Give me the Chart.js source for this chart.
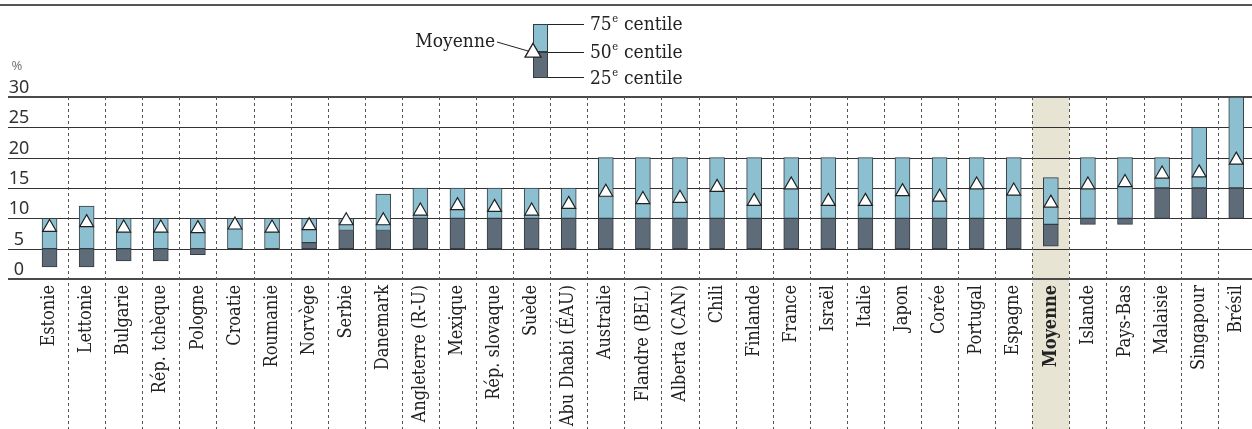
<!DOCTYPE html>
<html lang="fr">
<head>
<meta charset="utf-8">
<title>Centiles</title>
<script src="https://cdn.jsdelivr.net/npm/chart.js@4.4.1/dist/chart.umd.min.js"></script>
<style>
  html, body { margin: 0; padding: 0; background: #fff; overflow: hidden; }
  /* un peu plus large que la fenêtre : la dernière colonne déborde comme dans l'original */
  #wrap { width: 1264px; height: 429px; position: relative; }
</style>
</head>
<body>
<div id="wrap"><canvas id="chart-centiles"></canvas></div>
<script>
/* ── Données ── */
const categories = ['Estonie', 'Lettonie', 'Bulgarie', 'Rép. tchèque', 'Pologne', 'Croatie', 'Roumanie',
  'Norvège', 'Serbie', 'Danemark', 'Angleterre (R-U)', 'Mexique', 'Rép. slovaque', 'Suède',
  'Abu Dhabi (ÉAU)', 'Australie', 'Flandre (BEL)', 'Alberta (CAN)', 'Chili', 'Finlande', 'France',
  'Israël', 'Italie', 'Japon', 'Corée', 'Portugal', 'Espagne', 'Moyenne', 'Islande', 'Pays-Bas',
  'Malaisie', 'Singapour', 'Brésil'];

const p25  = [2, 2, 3, 3, 4, 5, 5, 5, 5, 5, 5, 5, 5, 5, 5, 5, 5, 5, 5, 5, 5, 5, 5, 5, 5, 5, 5, 5.4, 9, 9, 10, 10, 10];
const p50  = [5, 5, 5, 5, 5, 5, 5, 6, 8, 8, 10, 10, 10, 10, 10, 10, 10, 10, 10, 10, 10, 10, 10, 10, 10, 10, 10, 9, 10, 10, 15, 15, 15];
const p75  = [10, 12, 10, 10, 10, 10, 10, 10, 10, 14, 15, 15, 15, 15, 15, 20, 20, 20, 20, 20, 20, 20, 20, 20, 20, 20, 20, 16.7, 20, 20, 20, 25, 30];
const moy  = [8.5, 9.3, 8.4, 8.4, 8.3, 8.9, 8.4, 8.8, 9.6, 9.6, 11.2, 12.1, 11.8, 11.2, 12.3, 14.3, 13.1, 13.3, 15.1,
  12.8, 15.5, 12.8, 12.8, 14.4, 13.5, 15.5, 14.5, 12.5, 15.5, 15.9, 17.3, 17.5, 19.6];

const yTicks = [0, 5, 10, 15, 20, 25, 30];
const highlight = 'Moyenne';

/* ── Couleurs / polices ── */
const C_LIGHT = '#8cc0d0';
const C_DARK  = '#5e6c79';
const C_EDGE  = '#363b41';
const C_BAND  = '#e7e4d4';
const SERIF   = '"DejaVu Serif Condensed", "DejaVu Serif", serif';
const SANS    = '"Noto Sans", sans-serif';

/* ── Décor : bande, grille, séparateurs, axe Y, légende ── */
const decor = {
  id: 'decor',
  beforeDraw(chart) {
    const { ctx, chartArea: a, scales: { x, y } } = chart;
    const W = chart.width, H = chart.height;
    const step = x.getPixelForValue(1) - x.getPixelForValue(0);
    ctx.save();

    // filet du haut
    ctx.fillStyle = '#555';
    ctx.fillRect(0, 4, W, 2);

    // bande Moyenne
    const hi = categories.indexOf(highlight);
    ctx.fillStyle = C_BAND;
    ctx.fillRect(x.getPixelForValue(hi) - step / 2, a.top, step, H - a.top);

    // lignes horizontales
    yTicks.forEach(v => {
      const py = Math.round(y.getPixelForValue(v));
      const edge = v === 0 || v === 30;
      ctx.fillStyle = edge ? '#4a4a4a' : '#333';
      ctx.fillRect(8, py - (edge ? 1 : 0), W - 8, edge ? 2 : 1);
    });

    // séparateurs pointillés
    ctx.strokeStyle = '#555';
    ctx.lineWidth = 1;
    ctx.setLineDash([3, 3]);
    for (let k = 0; k < categories.length - 1; k++) {
      const bx = Math.round((x.getPixelForValue(k) + x.getPixelForValue(k + 1)) / 2) + 0.5;
      ctx.beginPath();
      ctx.moveTo(bx, a.top);
      ctx.lineTo(bx, H);
      ctx.stroke();
    }
    ctx.setLineDash([]);

    // graduations Y
    ctx.fillStyle = '#333';
    ctx.font = '18px ' + SANS;
    ctx.textAlign = 'center';
    ctx.textBaseline = 'alphabetic';
    yTicks.forEach(v => ctx.fillText(String(v), 19, y.getPixelForValue(v) - 4));
    ctx.font = '13px ' + SANS;
    ctx.fillStyle = '#777';
    ctx.fillText('%', 17, 70);

    // légende
    const lx = 533, lw = 15;
    ctx.fillStyle = C_LIGHT;
    ctx.fillRect(lx, 24, lw, 28);
    ctx.fillStyle = C_DARK;
    ctx.fillRect(lx, 52, lw, 26);
    ctx.strokeStyle = C_EDGE;
    ctx.strokeRect(lx + 0.5, 24.5, lw - 1, 27);
    ctx.strokeRect(lx + 0.5, 52.5, lw - 1, 25);
    ctx.strokeStyle = '#222';
    [24.5, 52.5, 77.5].forEach(ly => {
      ctx.beginPath(); ctx.moveTo(lx + lw, ly); ctx.lineTo(584, ly); ctx.stroke();
    });
    ctx.beginPath(); ctx.moveTo(497, 42); ctx.lineTo(528, 51); ctx.stroke();
    ctx.fillStyle = '#fff';
    ctx.lineWidth = 1.2;
    Chart.helpers.drawPoint(ctx, { pointStyle: 'triangle', radius: 9, borderWidth: 1.2 }, 533, 52.5);
    ctx.fill(); ctx.stroke();

    ctx.fillStyle = '#222';
    ctx.textAlign = 'left';
    ctx.textBaseline = 'middle';
    const legendLabels = [['75', 24], ['50', 52], ['25', 78]];
    legendLabels.forEach(([num, ly]) => {
      let tx = 590;
      ctx.font = '19px ' + SERIF;
      ctx.fillText(num, tx, ly + 1);
      tx += ctx.measureText(num).width;
      ctx.font = '11px ' + SERIF;
      ctx.fillText('e', tx + 0.5, ly - 5);
      tx += ctx.measureText('e').width + 1;
      ctx.font = '19px ' + SERIF;
      ctx.fillText(' centile', tx, ly + 1);
    });
    ctx.textAlign = 'right';
    ctx.fillText('Moyenne', 495, 42);

    ctx.restore();
  }
};

/* ── Graphique ── */
const ctx = document.getElementById('chart-centiles').getContext('2d');
new Chart(ctx, {
  data: {
    labels: categories,
    datasets: [
      {
        type: 'line',
        label: 'Moyenne',
        data: moy,
        showLine: false,
        pointStyle: 'triangle',
        pointRadius: 8,
        pointHoverRadius: 8,
        pointBackgroundColor: '#fff',
        pointBorderColor: '#222',
        pointBorderWidth: 1.2,
        order: 0,
      },
      {
        type: 'bar',
        label: '50e – 75e centile',
        data: categories.map((_, i) => [p50[i], p75[i]]),
        backgroundColor: C_LIGHT,
        borderColor: C_EDGE,
        borderWidth: 1,
        borderSkipped: false,
        barThickness: 15,
        grouped: false,
        order: 1,
      },
      {
        type: 'bar',
        label: '25e – 50e centile',
        data: categories.map((_, i) => [p25[i], p50[i]]),
        backgroundColor: C_DARK,
        borderColor: C_EDGE,
        borderWidth: 1,
        borderSkipped: false,
        barThickness: 15,
        grouped: false,
        order: 2,
      },
    ],
  },
  options: {
    responsive: true,
    maintainAspectRatio: false,
    animation: false,
    layout: { padding: { top: 97, left: 31, right: 0, bottom: 0 } },
    plugins: { legend: { display: false }, tooltip: { enabled: false } },
    scales: {
      x: {
        offset: true,
        grid: { display: false, drawTicks: false },
        border: { display: false },
        afterFit: s => { s.height = 150; },
        ticks: {
          autoSkip: false,
          maxRotation: 90,
          minRotation: 90,
          padding: 6,
          color: '#222',
          font: c => ({
            family: SERIF,
            size: 18,
            weight: c.tick && c.tick.label === highlight ? 'bold' : 'normal',
          }),
        },
      },
      y: { display: false, min: 0, max: 30 },
    },
  },
  plugins: [decor],
});
</script>
</body>
</html>
